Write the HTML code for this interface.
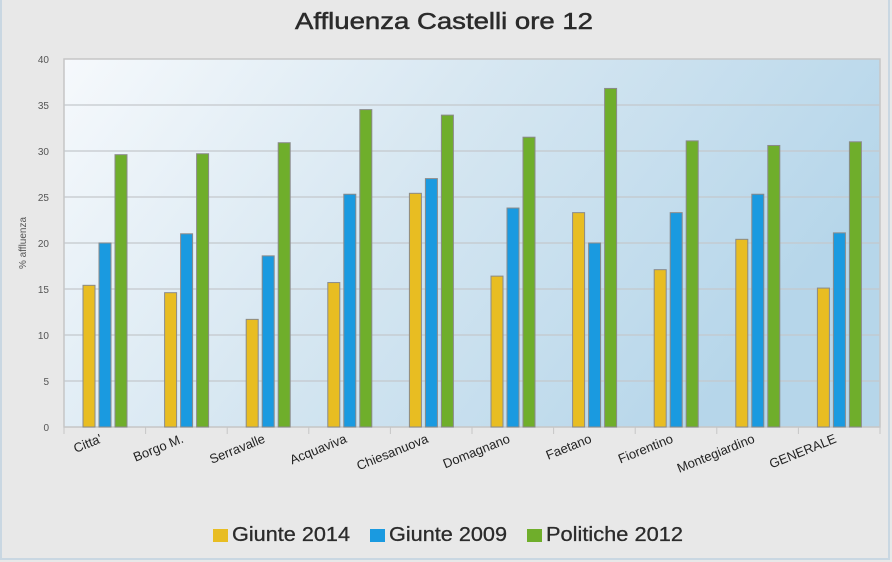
<!DOCTYPE html>
<html><head><meta charset="utf-8"><style>html,body{margin:0;padding:0;background:#e8e8e8}svg{display:block}</style></head><body>
<svg width="892" height="562" xmlns="http://www.w3.org/2000/svg" font-family="'Liberation Sans', sans-serif">
<defs>
<linearGradient id="g" x1="0" y1="0" x2="1" y2="0.35">
<stop offset="0" stop-color="#f6f9fc"/><stop offset="0.5" stop-color="#d5e6f1"/><stop offset="1" stop-color="#b6d6ea"/>
</linearGradient>
</defs>
<rect x="0" y="0" width="892" height="562" fill="#e8e8e8"/>
<rect x="1" y="-2" width="888" height="561" fill="none" stroke="#c9d7e2" stroke-width="2"/>
<text x="444" y="29" text-anchor="middle" font-size="23" fill="#2b2b2b" stroke="#2b2b2b" stroke-width="0.5" textLength="298" lengthAdjust="spacingAndGlyphs">Affluenza Castelli ore 12</text>
<rect x="64" y="59" width="816" height="368" fill="url(#g)" stroke="#c6c6c6" stroke-width="1.5"/>
<g stroke="#c4c8cc" stroke-width="1.2">
<line x1="64" x2="880" y1="105" y2="105"/><line x1="64" x2="880" y1="151" y2="151"/><line x1="64" x2="880" y1="197" y2="197"/><line x1="64" x2="880" y1="243" y2="243"/><line x1="64" x2="880" y1="289" y2="289"/><line x1="64" x2="880" y1="335" y2="335"/><line x1="64" x2="880" y1="381" y2="381"/>
</g>
<g font-size="10" fill="#555" text-anchor="end">
<text x="49" y="63">40</text><text x="49" y="109">35</text><text x="49" y="155">30</text><text x="49" y="201">25</text><text x="49" y="247">20</text><text x="49" y="293">15</text><text x="49" y="339">10</text><text x="49" y="385">5</text><text x="49" y="431">0</text>
</g>
<text transform="translate(26,243) rotate(-90)" text-anchor="middle" font-size="10" fill="#555">% affluenza</text>
<g id="bars"></g>
<g id="labels" font-size="13" fill="#222" text-anchor="end"></g>
<g stroke="#c6c6c6" stroke-width="1" id="ticks"></g>
<g font-size="20" fill="#2b2b2b" stroke="#2b2b2b" stroke-width="0.3">
<rect x="213" y="529" width="15" height="13" fill="#e8bd22" stroke="none"/><text x="232" y="541" textLength="118" lengthAdjust="spacingAndGlyphs">Giunte 2014</text>
<rect x="370" y="529" width="15" height="13" fill="#1a9ae0" stroke="none"/><text x="389" y="541" textLength="118" lengthAdjust="spacingAndGlyphs">Giunte 2009</text>
<rect x="527" y="529" width="15" height="13" fill="#6fae2b" stroke="none"/><text x="546" y="541" textLength="137" lengthAdjust="spacingAndGlyphs">Politiche 2012</text>
</g>
<script>
var d=[["Citta'",15.4,20,29.6],["Borgo M.",14.6,21,29.7],["Serravalle",11.7,18.6,30.9],["Acquaviva",15.7,25.3,34.5],["Chiesanuova",25.4,27,33.9],["Domagnano",16.4,23.8,31.5],["Faetano",23.3,20,36.8],["Fiorentino",17.1,23.3,31.1],["Montegiardino",20.4,25.3,30.6],["GENERALE",15.1,21.1,31]];
var c=["#e8bd22","#1a9ae0","#6fae2b"],ns="http://www.w3.org/2000/svg",w=81.6;
var b=document.getElementById("bars"),l=document.getElementById("labels"),t=document.getElementById("ticks");
d.forEach(function(r,i){var x0=64+i*w;
for(var k=0;k<3;k++){var v=r[k+1],y=427-v*9.2;var e=document.createElementNS(ns,"rect");
e.setAttribute("x",x0+19+k*16);e.setAttribute("y",y);e.setAttribute("width",12);e.setAttribute("height",427-y);
e.setAttribute("fill",c[k]);e.setAttribute("stroke","#8a8a8a");e.setAttribute("stroke-width","1");b.appendChild(e);}
var tx=document.createElementNS(ns,"text");tx.textContent=r[0];
tx.setAttribute("transform","translate("+(x0+w/2-2)+",442) rotate(-22)");l.appendChild(tx);
var ln=document.createElementNS(ns,"line");ln.setAttribute("x1",x0);ln.setAttribute("x2",x0);ln.setAttribute("y1",427);ln.setAttribute("y2",434);t.appendChild(ln);});
var ln=document.createElementNS(ns,"line");ln.setAttribute("x1",880);ln.setAttribute("x2",880);ln.setAttribute("y1",427);ln.setAttribute("y2",434);t.appendChild(ln);
</script>
</svg>
</body></html>
